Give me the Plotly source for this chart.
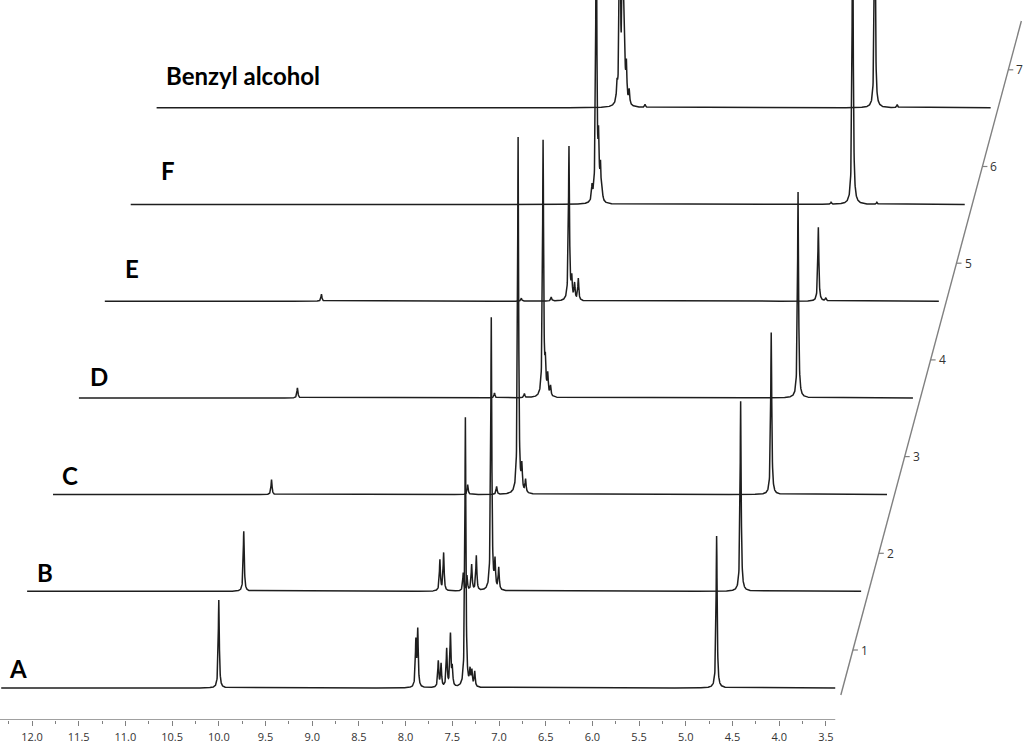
import numpy as np
import plotly.graph_objects as go

# ---------------- data ----------------
names = ["A", "B", "C", "D", "E", "F", "Benzyl alcohol"]

# peak tables: chemical shift (ppm) and peak height (intensity units)
shift_A = [10.00, 7.89, 7.87, 7.65, 7.62, 7.56, 7.52, 7.50, 7.36, 7.31, 7.29, 7.26, 4.67]
int_A = [88, 45, 56, 26, 23, 38, 52, 18, 270, 15, 15, 15, 152]
shift_B = [10.01, 7.91, 7.87, 7.66, 7.62, 7.57, 7.52, 7.36, 7.32, 7.28, 4.69]
int_B = [60, 31, 38, 18, 15, 26, 35, 273, 27, 22, 190]
shift_C = [9.99, 7.89, 7.58, 7.35, 7.31, 7.27, 4.64]
int_C = [15, 10, 8, 357, 24, 13, 162]
shift_D = [9.99, 7.88, 7.56, 7.36, 7.335, 7.31, 7.28, 4.63]
int_D = [10, 5, 4, 256, 28, 20, 10, 206]
shift_E = [10.01, 7.87, 7.55, 7.36, 7.33, 7.30, 7.26, 4.69, 4.61]
int_E = [7, 3, 4, 154, 20, 16, 22, 74, 3]
shift_F = [7.39, 7.345, 7.32, 7.30, 7.28, 4.83, 4.60, 4.34]
int_F = [14, 330, 55, 32, 6, 2, 330, 2]
shift_BA = [7.40, 7.37, 7.34, 7.32, 7.30, 7.27, 7.10, 4.64, 4.40]
int_BA = [16, 230, 230, 50, 36, 14, 3, 230, 3]

peak_shifts = [shift_A, shift_B, shift_C, shift_D, shift_E, shift_F, shift_BA]
peak_heights = [int_A, int_B, int_C, int_D, int_E, int_F, int_BA]

# bottom axis ticks
major_ticks = [12.0, 11.5, 11.0, 10.5, 10.0, 9.5, 9.0, 8.5, 8.0, 7.5, 7.0,
               6.5, 6.0, 5.5, 5.0, 4.5, 4.0, 3.5]
minor_ticks = [12.25, 11.75, 11.25, 10.75, 10.25, 9.75, 9.25, 8.75, 8.25,
               7.75, 7.25, 6.75, 6.25, 5.75, 5.25, 4.75, 4.25, 3.75]
# depth axis ticks
depth_ticks = [1, 2, 3, 4, 5, 6, 7]

# ---------------- layout / geometry (style, not data) ----------------
W, H = 1024, 743
PLOT_H = 720                      # plot area height in px (y units = px)
PX_PER_PPM = 93.4
X_LEFT = 12.0 + 32 / PX_PER_PPM   # ppm at left edge
X_RIGHT = X_LEFT - W / PX_PER_PPM
SHIFT_PPM = 25.9 / PX_PER_PPM      # horizontal skew per trace
OFFSET = 96.7                      # vertical offset per trace
BASE0 = 32.0                       # baseline of front spectrum
SPAN = (12.33, 3.40)               # spectral window (ppm)
HWHM = 0.0065                      # line width (ppm)

LINE_COL = "#1e1e1e"
AXIS_COL = "#808080"

fig = go.Figure()

grid = np.arange(SPAN[1], SPAN[0], 0.0015)
for k, (sh, hh) in enumerate(zip(peak_shifts, peak_heights)):
    x = np.sort(np.concatenate([grid, np.array(sh)]))
    y = np.zeros_like(x)
    for c, h in zip(sh, hh):
        y += h / (1.0 + ((x - c) / HWHM) ** 2)
    fig.add_trace(go.Scatter(
        x=x - k * SHIFT_PPM, y=y + BASE0 + k * OFFSET,
        mode="lines", line=dict(color=LINE_COL, width=1.5),
        hoverinfo="skip", name=names[k]))

shapes = []
# bottom axis line
shapes.append(dict(type="line", xref="x", yref="y", x0=X_LEFT, x1=SPAN[1],
                   y0=0, y1=0, line=dict(color=AXIS_COL, width=1.3)))
# skew (depth) axis
ax_bottom_ppm = SPAN[1] - 0.06
ax_bottom_y = 25
ax_top_ppm = ax_bottom_ppm - 6.97 * SHIFT_PPM
ax_top_y = ax_bottom_y + 6.97 * OFFSET
shapes.append(dict(type="line", xref="x", yref="y", x0=ax_bottom_ppm, x1=ax_top_ppm,
                   y0=ax_bottom_y, y1=ax_top_y, line=dict(color=AXIS_COL, width=1.4)))
annotations = []
tick_len = 5 / PX_PER_PPM
for i, t in enumerate(depth_ticks):
    ty = 70 + i * OFFSET
    frac = (ty - ax_bottom_y) / OFFSET
    tx = ax_bottom_ppm - frac * SHIFT_PPM
    shapes.append(dict(type="line", xref="x", yref="y", x0=tx, x1=tx - tick_len,
                       y0=ty, y1=ty, line=dict(color=AXIS_COL, width=1.2)))
    annotations.append(dict(x=tx - tick_len - 1.0 / PX_PER_PPM, y=ty, xref="x", yref="y",
                            text=str(t), showarrow=False, xanchor="left", yanchor="middle",
                            font=dict(family="Open Sans", size=12, color="#333")))

# spectrum labels (pixel positions of the text centres)
label_pos = [(18, 668), (45, 572), (70, 475), (99, 376), (132, 268), (168, 170), (243, 75)]
for name, (px, py) in zip(names, label_pos):
    annotations.append(dict(x=X_LEFT - px / PX_PER_PPM, y=PLOT_H - py, xref="x", yref="y",
                            text=name, showarrow=False, xanchor="center", yanchor="middle",
                            font=dict(family="Lato", size=24, color="#000", weight="bold")))

fig.update_layout(
    width=W, height=H, margin=dict(l=0, r=0, t=0, b=H - PLOT_H),
    paper_bgcolor="white", plot_bgcolor="white", showlegend=False,
    shapes=shapes, annotations=annotations,
    xaxis=dict(range=[X_LEFT, X_RIGHT], showgrid=False, zeroline=False, showline=False,
               tickmode="array", tickvals=major_ticks,
               ticktext=[f"{v:.1f}" for v in major_ticks],
               ticks="outside", ticklen=5, tickwidth=1, tickcolor=AXIS_COL,
               ticklabelstandoff=2,
               tickfont=dict(family="Open Sans", size=11, color="#333"),
               minor=dict(tickmode="array", tickvals=minor_ticks, ticks="outside",
                          ticklen=3, tickwidth=1, tickcolor=AXIS_COL),
               automargin=False, fixedrange=True),
    yaxis=dict(range=[0, PLOT_H], visible=False, automargin=False, fixedrange=True),
)

fig.write_html("out.html", config={"displayModeBar": False},
               post_script="document.body.style.margin='0px';document.body.style.overflow='hidden';")
